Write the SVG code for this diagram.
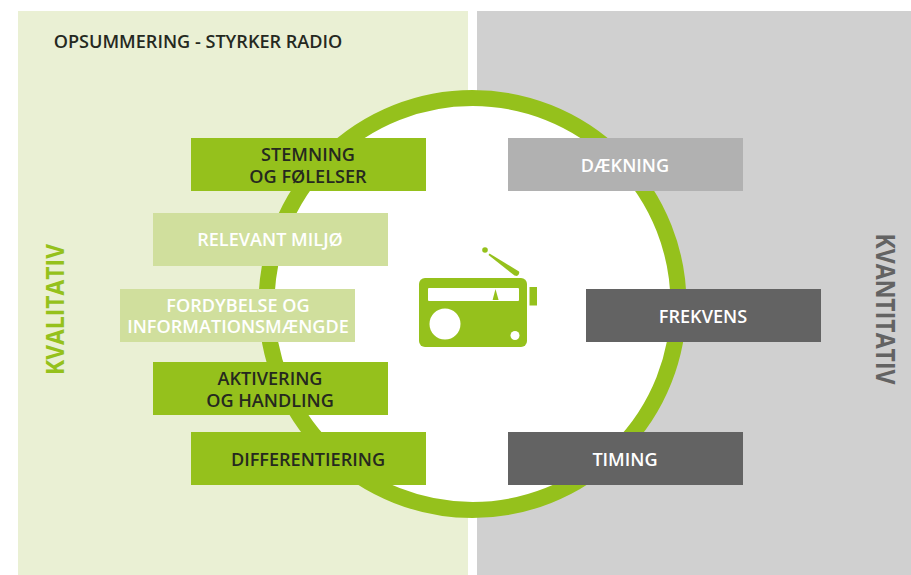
<svg xmlns="http://www.w3.org/2000/svg" width="911" height="575" viewBox="0 0 911 575">
<style>
text{font-family:"Open Sans","Noto Sans","Liberation Sans",sans-serif;font-weight:600;font-size:18.1px;text-anchor:middle}
.dark{fill:#25291f}.light{fill:#fff}
.g{fill:#95c11c}.lg{fill:#d0df9d}
</style>
<rect width="911" height="575" fill="#fff"/>
<rect x="18" y="11" width="450" height="564" fill="#eaf0d4"/>
<rect x="477" y="11" width="434" height="564" fill="#d0d0d0"/>
<circle cx="472.5" cy="304" r="206" fill="#fff" stroke="#95c11c" stroke-width="16"/>
<text x="198" y="48" class="dark">OPSUMMERING - STYRKER RADIO</text>
<text transform="translate(63.5,309.5) rotate(-90)" textLength="131" lengthAdjust="spacingAndGlyphs" style="font-size:25px;font-weight:700" fill="#95c11c">KVALITATIV</text>
<text transform="translate(876,309) rotate(90)" textLength="151" lengthAdjust="spacingAndGlyphs" style="font-size:26px;font-weight:700" fill="#636363">KVANTITATIV</text>
<g id="node-stemning"><rect class="g" x="191" y="138" width="235" height="53"/><text class="dark"><tspan x="308" y="161">STEMNING</tspan><tspan x="308" y="183">OG FØLELSER</tspan></text></g>
<g id="node-relevant"><rect class="lg" x="153" y="213" width="235" height="53"/><text class="light" x="270" y="246">RELEVANT MILJØ</text></g>
<g id="node-fordybelse"><rect class="lg" x="120" y="289" width="235" height="53"/><text class="light"><tspan x="238" y="312">FORDYBELSE OG</tspan><tspan x="238" y="333">INFORMATIONSMÆNGDE</tspan></text></g>
<g id="node-aktivering"><rect class="g" x="153" y="362" width="235" height="53"/><text class="dark"><tspan x="270" y="385">AKTIVERING</tspan><tspan x="270" y="407">OG HANDLING</tspan></text></g>
<g id="node-differentiering"><rect class="g" x="191" y="432" width="235" height="53"/><text class="dark" x="308" y="466">DIFFERENTIERING</text></g>
<g id="node-daekning"><rect fill="#b1b1b1" x="508" y="138" width="235" height="53"/><text class="light" x="625" y="172">DÆKNING</text></g>
<g id="node-frekvens"><rect fill="#636363" x="586" y="289" width="235" height="53"/><text class="light" x="703" y="323">FREKVENS</text></g>
<g id="node-timing"><rect fill="#636363" x="508" y="432" width="235" height="53"/><text class="light" x="625" y="466">TIMING</text></g>
<g id="node-radio">
<rect class="g" x="419" y="278" width="108" height="69" rx="6"/>
<rect fill="#fff" x="428" y="288" width="91" height="13" rx="1"/>
<path class="g" d="M495.5 289L498.6 300H492.6Z"/>
<circle fill="#fff" cx="445" cy="324" r="15.5"/>
<circle fill="#fff" cx="515" cy="335.5" r="4.5"/>
<rect class="g" x="529.5" y="287" width="7.5" height="18.5"/>
<path class="g" d="M489.5 253.5L519 271.5Q520 274 517 276L514.5 275.5L488.5 255Z"/>
<circle class="g" cx="485" cy="250" r="2.8"/>
</g>
<g id="connectors"/>
</svg>
